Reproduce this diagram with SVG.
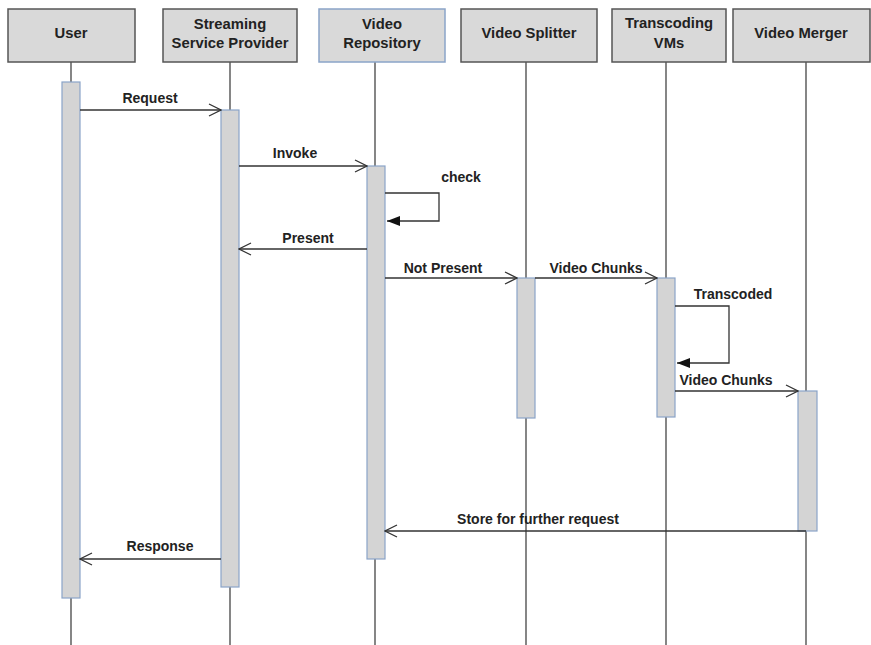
<svg xmlns="http://www.w3.org/2000/svg" width="871" height="645" viewBox="0 0 871 645">
<defs>
<style>
.hdr{fill:#d9d9d9;stroke:#555;stroke-width:1.5}
.hdrb{fill:#d9d9d9;stroke:#8aa4c8;stroke-width:1.5}
.bar{fill:#d4d4d4;stroke:#8aa4c8;stroke-width:1.2}
.life{stroke:#444;stroke-width:1.3;fill:none}
.msg{stroke:#333;stroke-width:1.3;fill:none}
text{font-family:"Liberation Sans",Arial,sans-serif;font-weight:bold;font-size:14px;fill:#222;text-anchor:middle}
.h{font-size:14.8px}
</style>
<marker id="open" markerWidth="14" markerHeight="14" refX="13" refY="7" orient="auto" markerUnits="userSpaceOnUse">
<path d="M1,1 L13,7 L1,13" fill="none" stroke="#333" stroke-width="1.3"/>
</marker>
<marker id="fill" markerWidth="14" markerHeight="10" refX="13" refY="5" orient="auto" markerUnits="userSpaceOnUse">
<path d="M0,0 L13,5 L0,10 Z" fill="#111"/>
</marker>
</defs>
<rect width="871" height="645" fill="#fff"/>
<g id="lifelines">
<line class="life" x1="71" y1="62" x2="71" y2="645"/>
<line class="life" x1="230" y1="62" x2="230" y2="645"/>
<line class="life" x1="375" y1="62" x2="375" y2="645"/>
<line class="life" x1="526" y1="62" x2="526" y2="645"/>
<line class="life" x1="666" y1="62" x2="666" y2="645"/>
<line class="life" x1="806" y1="62" x2="806" y2="645"/>
</g>
<g id="user"><rect class="hdr" x="8" y="9" width="127" height="53"/><text class="h" x="71" y="38">User</text><rect class="bar" x="62" y="82" width="18" height="516"/></g>
<g id="ssp"><rect class="hdr" x="163" y="9" width="134" height="53"/><text class="h" x="230" y="29">Streaming</text><text class="h" x="230" y="48">Service Provider</text><rect class="bar" x="221" y="110" width="18" height="477"/></g>
<g id="repo"><rect class="hdrb" x="319" y="9" width="126" height="53"/><text class="h" x="382" y="29">Video</text><text class="h" x="382" y="48">Repository</text><rect class="bar" x="367" y="166" width="18" height="393"/></g>
<g id="splitter"><rect class="hdr" x="461" y="9" width="136" height="53"/><text class="h" x="529" y="38">Video Splitter</text><rect class="bar" x="517" y="278" width="18" height="140"/></g>
<g id="transcoding"><rect class="hdr" x="612" y="9" width="114" height="53"/><text class="h" x="669" y="28">Transcoding</text><text class="h" x="669" y="48">VMs</text><rect class="bar" x="657" y="278" width="18" height="139"/></g>
<g id="merger"><rect class="hdr" x="733" y="9" width="137" height="53"/><text class="h" x="801" y="38">Video Merger</text><rect class="bar" x="798" y="391" width="19" height="140"/></g>
<g id="connectors">
<line class="msg" x1="80" y1="110" x2="221" y2="110" marker-end="url(#open)"/>
<text x="150" y="103">Request</text>
<line class="msg" x1="239" y1="166" x2="367" y2="166" marker-end="url(#open)"/>
<text x="295" y="158">Invoke</text>
<polyline class="msg" points="385,193 439,193 439,221 387,221" marker-end="url(#fill)"/>
<text x="461" y="182">check</text>
<line class="msg" x1="367" y1="249" x2="239" y2="249" marker-end="url(#open)"/>
<text x="308" y="243">Present</text>
<line class="msg" x1="385" y1="278" x2="517" y2="278" marker-end="url(#open)"/>
<text x="443" y="273">Not Present</text>
<line class="msg" x1="535" y1="278" x2="657" y2="278" marker-end="url(#open)"/>
<text x="596" y="273">Video Chunks</text>
<polyline class="msg" points="675,306 729,306 729,363 677,363" marker-end="url(#fill)"/>
<text x="733" y="299">Transcoded</text>
<line class="msg" x1="675" y1="391" x2="798" y2="391" marker-end="url(#open)"/>
<text x="726" y="385">Video Chunks</text>
<line class="msg" x1="806" y1="531" x2="385" y2="531" marker-end="url(#open)"/>
<text x="538" y="524">Store for further request</text>
<line class="msg" x1="221" y1="559" x2="80" y2="559" marker-end="url(#open)"/>
<text x="160" y="551">Response</text>
</g>
</svg>
